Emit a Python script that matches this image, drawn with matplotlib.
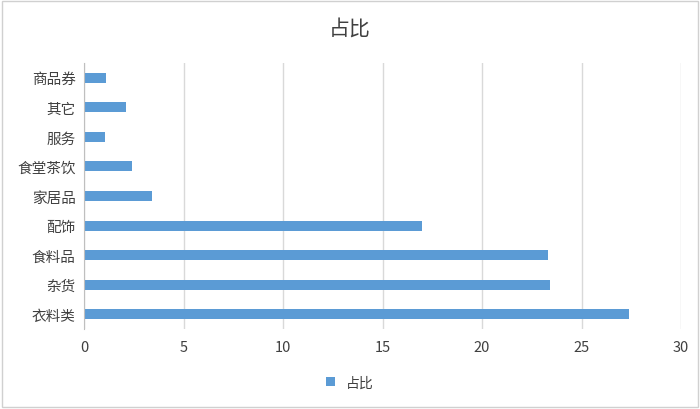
import matplotlib.pyplot as plt
from matplotlib.patches import Rectangle

plt.rcParams['font.family'] = ['Noto Sans CJK SC', 'DejaVu Sans']

# 数据
categories = ['衣料类', '杂货', '食料品', '配饰', '家居品', '食堂茶饮', '服务', '其它', '商品券']
values = [27.4, 23.4, 23.3, 17.0, 3.43, 2.43, 1.03, 2.13, 1.12]
xticks = [0, 5, 10, 15, 20, 25, 30]

fig = plt.figure(figsize=(7, 4.1), dpi=100)
ax = fig.add_axes([0.12, 0.195, 0.853, 0.649])

ax.barh(range(len(categories)), values, height=0.34, color='#5b9bd5', label='占比', zorder=3)

ax.set_xlim(0, 30)
ax.set_ylim(-0.5, len(categories) - 0.5)
ax.set_xticks(xticks)
ax.set_yticks(range(len(categories)))
ax.set_yticklabels(categories, fontsize=10.5, color='#404040')
ax.tick_params(axis='x', labelsize=10.5, colors='#404040', length=0, pad=8)
ax.tick_params(axis='y', length=0, pad=6)
ax.grid(axis='x', color='#d9d9d9', linewidth=1, zorder=0)
for s in ['top', 'right', 'bottom']:
    ax.spines[s].set_visible(False)
ax.spines['left'].set_color('#bfbfbf')
ax.spines['left'].set_zorder(4)

fig.text(0.5, 0.93, '占比', ha='center', va='center', fontsize=15, color='#404040')

ax.legend(loc='center', bbox_to_anchor=(0.5, 0.065), bbox_transform=fig.transFigure,
          frameon=False, fontsize=10, handlelength=0.6, handleheight=0.6,
          labelcolor='#404040')

# 外框
fig.patches.append(Rectangle((0.003, 0.004), 0.994, 0.992, transform=fig.transFigure,
                             fill=False, edgecolor='#d0d0d0', linewidth=1))

plt.savefig('out.png', dpi=100)
